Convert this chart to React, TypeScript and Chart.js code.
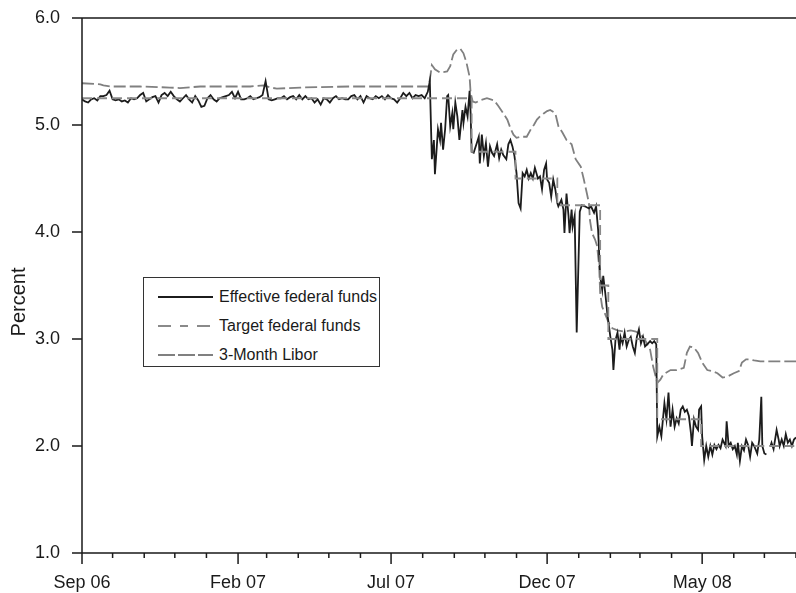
import { useEffect, useRef } from 'react';
import { Chart, registerables } from 'chart.js';

Chart.register(...registerables);

// x values are days counted from 1 Sep 2006
const LAST_DAY = 700;
const MONTH_COUNT = 24;
const TICK_LABELS = ['Sep 06', 'Feb 07', 'Jul 07', 'Dec 07', 'May 08'];

// effective federal funds, calm stretch: one reading every 3 days from day 0
const EFF_CALM_STEP = 3;
const effCalm = [
  5.24, 5.22, 5.21, 5.24, 5.25, 5.23, 5.27, 5.27, 5.28, 5.32,
  5.24, 5.23, 5.24, 5.22, 5.23, 5.21, 5.25, 5.24, 5.25, 5.28,
  5.30, 5.22, 5.24, 5.26, 5.27, 5.21, 5.28, 5.30, 5.27, 5.31,
  5.27, 5.24, 5.22, 5.25, 5.28, 5.24, 5.21, 5.27, 5.23, 5.17,
  5.18, 5.25, 5.28, 5.24, 5.22, 5.25, 5.26, 5.27, 5.28, 5.31,
  5.25, 5.31, 5.24, 5.24, 5.25, 5.27, 5.24, 5.25, 5.26, 5.28,
  5.41, 5.24, 5.23, 5.24, 5.25, 5.25, 5.27, 5.24, 5.26, 5.27,
  5.24, 5.28, 5.24, 5.27, 5.24, 5.25, 5.21, 5.24, 5.19, 5.25,
  5.24, 5.21, 5.25, 5.27, 5.24, 5.25, 5.24, 5.24, 5.27, 5.28,
  5.24, 5.27, 5.21, 5.27, 5.25, 5.24, 5.27, 5.25, 5.27, 5.24,
  5.28, 5.25, 5.24, 5.21, 5.25, 5.30, 5.27, 5.30, 5.25, 5.28,
  5.27, 5.28, 5.25, 5.31,
];

// effective federal funds from the August 2007 turmoil on
const effDays = [
  341, 343, 345, 346, 349, 351, 352, 354, 356, 358,
  359, 361, 363, 364, 366, 368, 370, 373, 374, 376,
  378, 380, 381, 382, 384, 387, 389, 390, 392, 394,
  396, 398, 400, 402, 404, 407, 409, 411, 413, 416,
  418, 420, 422, 424, 426, 428, 430, 432, 434, 436,
  438, 440, 442, 444, 447, 449, 451, 453, 455, 456,
  458, 460, 462, 464, 466, 467, 470, 472, 473, 475,
  477, 478, 480, 481, 483, 485, 488, 490, 493, 497,
  499, 502, 504, 506, 508, 510, 511, 513, 515, 518,
  520, 521, 523, 525, 527, 528, 530, 532, 534, 536,
  538, 540, 542, 544, 546, 548, 550, 552, 555, 557,
  559, 561, 563, 564, 566, 568, 571, 573, 575, 577,
  579, 581, 583, 585, 587, 589, 591, 593, 595, 597,
  598, 600, 602, 604, 605, 607, 608, 610, 612, 614,
  616, 618, 620, 622, 624, 626, 628, 631, 632, 634,
  636, 638, 640, 642, 643, 645, 647, 649, 651, 653,
  655, 657, 659, 662, 664, 666, 667, 669, 671, 673,
  675, 676, 678, 681, 683, 684, 686, 688, 690, 692,
  694, 696, 698, 700,
];
const effRates = [
  5.41, 4.68, 4.86, 4.54, 4.96, 4.86, 5.02, 4.77, 4.96, 5.27,
  5.28, 4.99, 5.11, 4.96, 5.21, 5.08, 4.86, 5.14, 5.02, 5.17,
  5.08, 5.32, 5.11, 4.75, 4.74, 4.83, 4.89, 4.64, 4.91, 4.71,
  4.83, 4.61, 4.80, 4.74, 4.71, 4.82, 4.69, 4.77, 4.72, 4.68,
  4.82, 4.86, 4.80, 4.71, 4.55, 4.27, 4.22, 4.55, 4.52, 4.58,
  4.50, 4.55, 4.50, 4.60, 4.50, 4.52, 4.40, 4.58, 4.64, 4.49,
  4.46, 4.33, 4.49, 4.40, 4.27, 4.24, 4.30, 4.21, 3.99, 4.36,
  4.15, 3.99, 4.21, 4.05, 4.15, 3.06, 4.19, 4.25, 4.24, 4.22,
  4.24, 4.18, 4.24, 4.02, 3.59, 3.46, 3.59, 3.43, 3.24, 3.02,
  2.90, 2.71, 2.99, 3.06, 2.90, 3.02, 2.96, 3.06, 2.93, 2.99,
  3.02, 2.93, 2.87, 3.02, 3.09, 2.96, 3.02, 2.93, 2.96, 2.98,
  2.96, 2.98, 2.95, 2.09, 2.18, 2.09, 2.40, 2.25, 2.50, 2.18,
  2.34, 2.18, 2.26, 2.21, 2.34, 2.37, 2.32, 2.34, 2.28, 2.12,
  2.00, 2.25, 2.18, 2.15, 2.34, 2.37, 2.09, 1.87, 2.00, 1.90,
  2.00, 1.92, 2.01, 1.97, 2.01, 1.98, 2.06, 2.00, 2.23, 2.00,
  2.03, 1.97, 2.00, 1.92, 2.03, 1.86, 2.00, 1.96, 2.06, 2.01,
  1.90, 2.03, 2.00, 1.93, 2.06, 2.46, 2.00, 1.93, 1.92, null,
  2.00, 2.03, 1.97, 2.15, 2.06, 2.00, 2.06, 2.00, 2.11, 2.03,
  2.06, 2.00, 2.06, 2.08,
];

// target rate: each value holds until the next change day
const targetDays = [0, 382, 425, 466, 508, 516, 564, 607, 700];
const targetRates = [5.25, 4.75, 4.5, 4.25, 3.5, 3.0, 2.25, 2.0, 2.0];

const liborDays = [
  0, 18, 21, 28, 57, 86, 96, 116, 165, 178,
  185, 191, 214, 263, 312, 340, 342, 343, 346, 351,
  358, 361, 364, 368, 371, 374, 377, 380, 381, 383,
  386, 390, 397, 404, 408, 413, 417, 420, 423, 426,
  430, 436, 440, 443, 446, 449, 453, 456, 459, 464,
  467, 471, 475, 480, 484, 489, 492, 495, 497, 498,
  500, 503, 505, 507, 508, 510, 513, 516, 520, 525,
  531, 538, 543, 548, 552, 557, 560, 564, 567, 570,
  577, 583, 590, 593, 596, 600, 604, 608, 613, 618,
  623, 628, 633, 639, 644, 647, 651, 654, 659, 665,
  675, 685, 694, 700,
];
const liborRates = [
  5.39, 5.38, 5.37, 5.36, 5.36, 5.35, 5.345, 5.36, 5.36, 5.37,
  5.35, 5.34, 5.35, 5.36, 5.36, 5.36, 5.49, 5.56, 5.52, 5.49,
  5.50, 5.55, 5.66, 5.71, 5.71, 5.67, 5.58, 5.45, 5.30, 5.22,
  5.21, 5.23, 5.25, 5.23, 5.18, 5.11, 5.05, 4.97, 4.91, 4.88,
  4.89, 4.89, 4.96, 5.00, 5.05, 5.08, 5.11, 5.13, 5.14, 5.11,
  4.99, 4.93, 4.86, 4.82, 4.68, 4.61, 4.49, 4.36, 4.27, 4.11,
  3.99, 3.93, 3.87, 3.68, 3.43, 3.30, 3.23, 3.16, 3.10, 3.08,
  3.07, 3.08, 3.07, 3.04, 2.99, 2.90, 2.74, 2.59, 2.62, 2.67,
  2.71, 2.71, 2.73, 2.87, 2.93, 2.92, 2.87, 2.78, 2.71, 2.70,
  2.68, 2.64, 2.65, 2.68, 2.70, 2.78, 2.81, 2.81, 2.80, 2.79,
  2.79, 2.79, 2.79, 2.79,
];

const FONT = '"Liberation Sans", Arial, Helvetica, sans-serif';
const INK = '#1a1a1a';

const DAY_MS = 86400000;
const monthStarts = Array.from({ length: MONTH_COUNT }, (_, i) =>
  Math.round((Date.UTC(2006, 8 + i, 1) - Date.UTC(2006, 8, 1)) / DAY_MS),
).filter((d) => d <= LAST_DAY);

const toPoints = (days: number[], rates: (number | null)[]) =>
  days.map((d, i) => ({ x: d, y: rates[i] }));

const effPoints = [
  ...effCalm.map((v, i) => ({ x: i * EFF_CALM_STEP, y: v })),
  ...toPoints(effDays, effRates),
];

// axis frame, tick marks and the offset "Percent" label
const framePlugin = {
  id: 'frame',
  afterDraw(chart: any) {
    const { ctx, chartArea: a, scales } = chart;
    ctx.save();
    ctx.strokeStyle = INK;
    ctx.lineWidth = 1.5;
    ctx.beginPath();
    ctx.moveTo(a.right, a.top);
    ctx.lineTo(a.left, a.top);
    ctx.lineTo(a.left, a.bottom);
    ctx.lineTo(a.right, a.bottom);
    for (const t of scales.y.ticks) {
      const y = scales.y.getPixelForValue(t.value);
      ctx.moveTo(a.left - 10, y);
      ctx.lineTo(a.left, y);
    }
    monthStarts.forEach((d, i) => {
      const x = scales.x.getPixelForValue(d);
      ctx.moveTo(x, a.bottom);
      ctx.lineTo(x, a.bottom + (i % 5 === 0 ? 11 : 5));
    });
    ctx.stroke();

    ctx.translate(19, 302);
    ctx.rotate(-Math.PI / 2);
    ctx.font = `20px ${FONT}`;
    ctx.fillStyle = INK;
    ctx.textAlign = 'center';
    ctx.textBaseline = 'middle';
    ctx.fillText('Percent', 0, 0);
    ctx.restore();
  },
};

function LegendRow({ top, dash, color, label }: { top: number; dash?: string; color: string; label: string }) {
  return (
    <div style={{ position: 'absolute', left: 0, top: top - 10, height: 20, display: 'flex', alignItems: 'center' }}>
      <svg width={70} height={20} style={{ display: 'block' }}>
        <line x1={14} y1={10} x2={69} y2={10} stroke={color} strokeWidth={2} strokeDasharray={dash} />
      </svg>
      <span style={{ marginLeft: 5, whiteSpace: 'nowrap' }}>{label}</span>
    </div>
  );
}

export default function App() {
  const canvasRef = useRef<HTMLCanvasElement>(null);

  useEffect(() => {
    if (!canvasRef.current) return;
    const chart = new Chart(canvasRef.current, {
      type: 'line',
      data: {
        datasets: [
          {
            label: 'Target federal funds',
            data: toPoints(targetDays, targetRates),
            stepped: 'before',
            borderColor: '#8a8a8a',
            borderWidth: 1.8,
            borderDash: [10, 5],
            pointRadius: 0,
          },
          {
            label: 'Effective federal funds',
            data: effPoints,
            borderColor: '#1c1c1c',
            borderWidth: 1.8,
            pointRadius: 0,
            spanGaps: false,
          },
          {
            label: '3-Month Libor',
            data: toPoints(liborDays, liborRates),
            borderColor: '#808080',
            borderWidth: 1.8,
            borderDash: [12, 4],
            pointRadius: 0,
          },
        ],
      },
      options: {
        responsive: true,
        maintainAspectRatio: false,
        animation: false,
        events: [],
        layout: { padding: { top: 18, right: 0, bottom: 0, left: 0 } },
        plugins: { legend: { display: false }, tooltip: { enabled: false } },
        scales: {
          x: {
            type: 'linear',
            min: 0,
            max: LAST_DAY,
            grid: { display: false, drawTicks: false },
            border: { display: false },
            afterBuildTicks: (scale: any) => {
              scale.ticks = monthStarts.map((value) => ({ value }));
            },
            afterFit: (scale: any) => {
              scale.height = 40;
              scale.paddingLeft = 0;
              scale.paddingRight = 0;
            },
            ticks: {
              autoSkip: false,
              maxRotation: 0,
              padding: 19,
              color: INK,
              font: { family: FONT, size: 18 },
              callback: (_v: any, i: number) => (i % 5 === 0 ? TICK_LABELS[i / 5] ?? '' : ''),
            },
          },
          y: {
            min: 1,
            max: 6,
            grid: { display: false, drawTicks: false },
            border: { display: false },
            afterFit: (scale: any) => {
              scale.width = 82;
              scale.paddingTop = 0;
              scale.paddingBottom = 0;
            },
            ticks: {
              stepSize: 1,
              padding: 22,
              color: INK,
              font: { family: FONT, size: 18 },
              callback: (v: any) => Number(v).toFixed(1),
            },
          },
        },
      },
      plugins: [framePlugin],
    });
    return () => chart.destroy();
  }, []);

  return (
    <div style={{ position: 'fixed', left: 0, top: 0, width: 796, height: 593, background: '#fff' }}>
      <canvas ref={canvasRef} />
      <div
        style={{
          position: 'absolute', left: 143, top: 277, width: 237, height: 90,
          border: '1.3px solid #333', boxSizing: 'border-box', background: '#fff',
          fontFamily: FONT, fontSize: 16, color: INK,
        }}
      >
        <LegendRow top={19} color="#1c1c1c" label="Effective federal funds" />
        <LegendRow top={48} color="#8a8a8a" dash="13 9 8 9" label="Target federal funds" />
        <LegendRow top={77} color="#808080" dash="17 3" label="3-Month Libor" />
      </div>
    </div>
  );
}
